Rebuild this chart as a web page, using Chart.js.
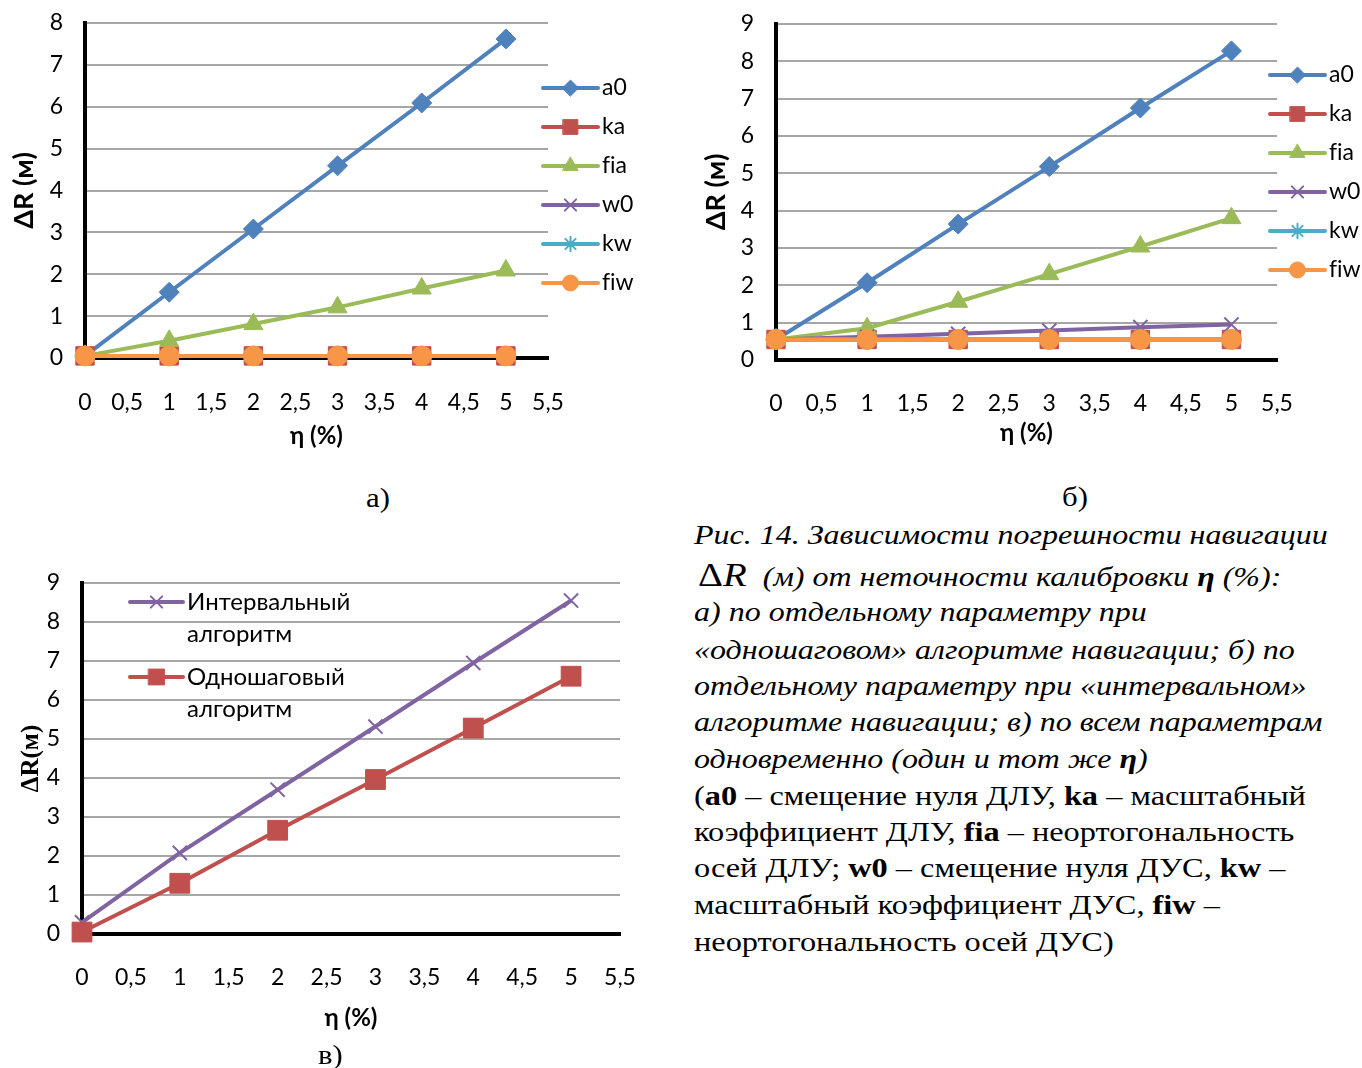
<!DOCTYPE html>
<html>
<head>
<meta charset="utf-8">
<script src="https://cdn.jsdelivr.net/npm/chart.js@4.4.1/dist/chart.umd.min.js"></script>
<style>
  body { margin: 0; background: #fff; width: 1362px; height: 1068px; position: relative; overflow: hidden; }
  canvas { position: absolute; }
  .cap { position: absolute; font-family: "Liberation Serif", "Times New Roman", serif; font-size: 28px; color: #000; white-space: nowrap; line-height: 1; transform: scaleX(1.1); transform-origin: left top; }
  .ln { position: absolute; left: 694px; font-family: "Liberation Serif", "Times New Roman", serif; font-size: 28px; color: #000; white-space: nowrap; line-height: 1; transform-origin: left top; transform: scaleX(1.155); }
  .it { font-style: italic; transform: scaleX(1.143); }
  .dr { font-style: normal; font-size: 34px; }
</style>
</head>
<body>
<canvas id="chartA" style="left:0;top:0"></canvas>
<canvas id="chartB" style="left:690px;top:0"></canvas>
<canvas id="chartC" style="left:0;top:560px"></canvas>

<div class="cap" style="left:366px;top:484px">а)</div>
<div class="cap" style="left:1062px;top:483px">б)</div>
<div class="cap" style="left:318px;top:1041px">в)</div>

<div class="ln it" style="top:521px">Рис. 14. Зависимости погрешности навигации</div>
<div class="ln it" style="top:558px;left:698px"><span class="dr">Δ<i>R</i></span>&nbsp; (м) от неточности калибровки <b>η</b> (%):</div>
<div class="ln it" style="top:598px">а) по отдельному параметру при</div>
<div class="ln it" style="top:636px">«одношаговом» алгоритме навигации; б) по</div>
<div class="ln it" style="top:672px">отдельному параметру при «интервальном»</div>
<div class="ln it" style="top:708px">алгоритме навигации; в) по всем параметрам</div>
<div class="ln it" style="top:745px">одновременно (один и тот же <b>η</b>)</div>
<div class="ln" style="top:782px">(<b>a0</b> – смещение нуля ДЛУ, <b>ka</b> – масштабный</div>
<div class="ln" style="top:818px">коэффициент ДЛУ, <b>fia</b> – неортогональность</div>
<div class="ln" style="top:854px">осей ДЛУ; <b>w0</b> – смещение нуля ДУС, <b>kw</b> –</div>
<div class="ln" style="top:891px">масштабный коэффициент ДУС, <b>fiw</b> –</div>
<div class="ln" style="top:928px">неортогональность осей ДУС)</div>

<script>
// x values (calibration inaccuracy, %)
const eta = [0, 1, 2, 3, 4, 5];

// а) single-step algorithm, one parameter at a time
const aA0  = [0.05, 1.57, 3.08, 4.59, 6.09, 7.62];
const aKa  = [0.05, 0.05, 0.05, 0.05, 0.05, 0.05];
const aFia = [0.05, 0.41, 0.81, 1.21, 1.66, 2.09];
const aW0  = [0.05, 0.05, 0.05, 0.05, 0.05, 0.05];
const aKw  = [0.05, 0.05, 0.05, 0.05, 0.05, 0.05];
const aFiw = [0.05, 0.05, 0.05, 0.05, 0.05, 0.05];

// б) interval algorithm, one parameter at a time
const bA0  = [0.55, 2.07, 3.64, 5.18, 6.75, 8.28];
const bKa  = [0.55, 0.55, 0.55, 0.55, 0.55, 0.55];
const bFia = [0.55, 0.85, 1.56, 2.30, 3.04, 3.80];
const bW0  = [0.55, 0.62, 0.70, 0.79, 0.88, 0.95];
const bKw  = [0.55, 0.55, 0.55, 0.55, 0.55, 0.55];
const bFiw = [0.55, 0.55, 0.55, 0.55, 0.55, 0.55];

// в) all parameters at once
const cInterval = [0.30, 2.08, 3.70, 5.32, 6.95, 8.55];
const cSingle   = [0.05, 1.30, 2.66, 3.96, 5.28, 6.61];

const seriesNames = ['a0', 'ka', 'fia', 'w0', 'kw', 'fiw'];
const seriesColors = ['#4F81BD', '#C0504D', '#9BBB59', '#8064A2', '#4BACC6', '#F79646'];
const seriesMarkers = ['rectRot', 'rect', 'triangle', 'crossRot', 'star', 'circle'];
const markerSizes = [10, 13, 11, 10, 9, 10];

const tickFont = { family: 'Lato', size: 23 };
const xTitleFont = { family: 'Lato', size: 24, weight: 'bold' };
const yTitleFont = { family: 'Lato', size: 27, weight: 'bold' };

function pts(ys) {
  return ys.map((y, i) => ({ x: eta[i], y: y }));
}

function makeDataset(label, ys, idx, total) {
  const style = seriesMarkers[idx];
  const hollow = style === 'crossRot' || style === 'star';
  return {
    label: label,
    data: pts(ys),
    borderColor: seriesColors[idx],
    backgroundColor: seriesColors[idx],
    borderWidth: 4,
    pointStyle: style,
    pointRadius: markerSizes[idx],
    pointBorderWidth: hollow ? 2 : 1,
    pointBorderColor: seriesColors[idx],
    pointBackgroundColor: seriesColors[idx],
    tension: 0,
    clip: false,
    order: total - idx
  };
}

// legend drawn Excel-style: short line with the marker in the middle
const lineLegend = {
  id: 'lineLegend',
  afterDraw(chart, args, opts) {
    const ctx = chart.ctx;
    ctx.save();
    chart.data.datasets.forEach((ds, i) => {
      const y = opts.y + i * opts.gap;
      ctx.strokeStyle = ds.borderColor;
      ctx.fillStyle = ds.backgroundColor;
      ctx.lineWidth = 4;
      ctx.lineCap = 'round';
      ctx.beginPath();
      ctx.moveTo(opts.x, y);
      ctx.lineTo(opts.x + opts.lineLen, y);
      ctx.stroke();
      ctx.lineWidth = ds.pointBorderWidth;
      Chart.helpers.drawPoint(ctx, {
        pointStyle: ds.pointStyle,
        radius: ds.pointRadius * 0.8,
        rotation: 0,
        borderWidth: ds.pointBorderWidth
      }, opts.x + opts.lineLen / 2, y);
      ctx.fillStyle = '#000';
      ctx.font = opts.font;
      ctx.textBaseline = 'middle';
      ctx.textAlign = 'left';
      // no "fi" ligature, like the original legend
      String(ds.label).replace(/fi/g, 'f\u200Ci').split('\n').forEach((t, k) => {
        ctx.fillText(t, opts.x + opts.lineLen + opts.textGap, y + k * opts.lineGap);
      });
    });
    ctx.restore();
  }
};

function makeChart(id, w, h, box, datasets, yMax, yTitle, yFont, legendOpts) {
  const canvas = document.getElementById(id);
  canvas.width = w;
  canvas.height = h;
  canvas.style.width = w + 'px';
  canvas.style.height = h + 'px';
  return new Chart(canvas, {
    type: 'line',
    data: { datasets: datasets },
    options: {
      responsive: false,
      animation: false,
      events: [],
      layout: { padding: { left: 0, top: box.top, right: w - box.right, bottom: 0 } },
      plugins: {
        legend: { display: false },
        tooltip: { enabled: false },
        lineLegend: legendOpts
      },
      scales: {
        x: {
          type: 'linear',
          min: 0,
          max: 5.5,
          afterFit: s => { s.height = h - box.bottom; s.paddingLeft = 0; s.paddingRight = 0; },
          grid: { display: false, drawTicks: false },
          border: { display: true, color: '#000', width: 4 },
          ticks: {
            stepSize: 0.5,
            padding: box.xTickPad,
            color: '#000',
            font: tickFont,
            maxRotation: 0,
            autoSkip: false,
            callback: v => String(v).replace('.', ',')
          },
          title: { display: true, text: 'η (%)', color: '#000', font: xTitleFont, padding: { top: 0, bottom: box.xTitlePad } }
        },
        y: {
          min: 0,
          max: yMax,
          // keep the plot box where it is in the original (labels may overhang)
          afterFit: s => { s.width = box.left; s.paddingTop = 0; s.paddingBottom = 0; },
          grid: { color: '#a6a6a6', lineWidth: 2, drawTicks: false },
          border: { display: true, color: '#000', width: 4 },
          ticks: { stepSize: 1, padding: box.yTickPad, color: '#000', font: tickFont },
          title: { display: true, text: yTitle, color: '#000', font: yFont, padding: { top: box.yTitlePad, bottom: 0 } }
        }
      }
    },
    plugins: [lineLegend]
  });
}

const aSeries = [aA0, aKa, aFia, aW0, aKw, aFiw];
const bSeries = [bA0, bKa, bFia, bW0, bKw, bFiw];

makeChart('chartA', 640, 460,
  { left: 85, right: 548, top: 23, bottom: 358, xTickPad: 31, xTitlePad: 9, yTickPad: 22, yTitlePad: 8 },
  aSeries.map((ys, i) => makeDataset(seriesNames[i], ys, i, 6)),
  8, 'ΔR (м)', yTitleFont,
  { x: 543, y: 88, gap: 39, lineLen: 55, textGap: 4, lineGap: 32, font: '23px Lato' });

makeChart('chartB', 672, 460,
  { left: 86, right: 587, top: 24, bottom: 360, xTickPad: 30, xTitlePad: 12, yTickPad: 22, yTitlePad: 10 },
  bSeries.map((ys, i) => makeDataset(seriesNames[i], ys, i, 6)),
  9, 'ΔR (м)', yTitleFont,
  { x: 580, y: 75, gap: 39, lineLen: 55, textGap: 4, lineGap: 32, font: '23px Lato' });

const cSets = [
  Object.assign(makeDataset('Интервальный\nалгоритм', cInterval, 3, 2), { order: 1 }),
  Object.assign(makeDataset('Одношаговый\nалгоритм', cSingle, 1, 2), { order: 0, pointRadius: 14 })
];
makeChart('chartC', 680, 480,
  { left: 82, right: 620, top: 23, bottom: 374, xTickPad: 30, xTitlePad: 7, yTickPad: 22, yTitlePad: 17 },
  cSets, 9, 'ΔR(м)', { family: 'Liberation Serif', size: 25, weight: 'bold' },
  { x: 130, y: 42, gap: 75, lineLen: 53, textGap: 4, lineGap: 32, font: '24px Lato' });
</script>
</body>
</html>
